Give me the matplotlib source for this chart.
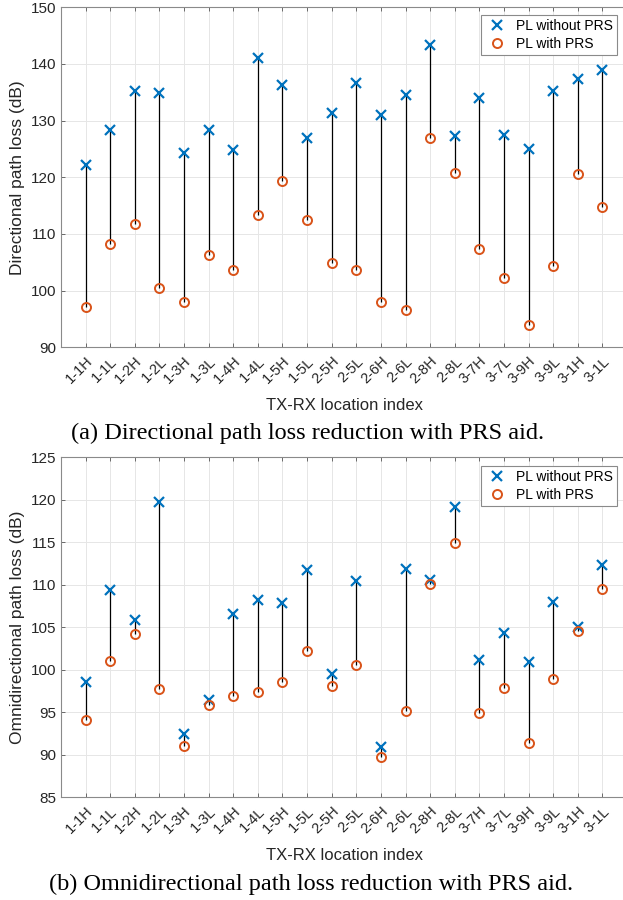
import numpy as np
import matplotlib.pyplot as plt

# dados
locais = ["1-1H", "1-1L", "1-2H", "1-2L", "1-3H", "1-3L", "1-4H", "1-4L", "1-5H", "1-5L", "2-5H",
          "2-5L", "2-6H", "2-6L", "2-8H", "2-8L", "3-7H", "3-7L", "3-9H", "3-9L", "3-1H", "3-1L"]

dir_sem_prs = [122.1, 128.3, 135.3, 134.9, 124.3, 128.3, 124.9, 141.0, 136.3, 127.0, 131.4,
               136.6, 131.0, 134.5, 143.3, 127.3, 134.0, 127.5, 125.0, 135.3, 137.3, 138.9]
dir_com_prs = [97.2, 108.2, 111.7, 100.5, 98.0, 106.3, 103.6, 113.3, 119.3, 112.5, 104.8,
               103.7, 98.0, 96.6, 126.9, 120.7, 107.3, 102.2, 94.0, 104.4, 120.5, 114.8]

omni_sem_prs = [98.5, 109.4, 105.9, 119.7, 92.4, 96.4, 106.5, 108.2, 107.8, 111.7, 99.5,
                110.4, 90.9, 111.9, 110.6, 119.1, 101.1, 104.3, 100.9, 108.0, 105.0, 112.3]
omni_com_prs = [94.1, 101.0, 104.2, 97.7, 91.0, 95.8, 96.9, 97.4, 98.6, 102.2, 98.1,
                100.5, 89.7, 95.2, 110.1, 114.9, 94.9, 97.9, 91.4, 98.9, 104.5, 109.5]

AZUL = "#0072BD"
LARANJA = "#D95319"
CINZA_TXT = "#262626"

plt.rcParams["font.family"] = ["Liberation Sans", "DejaVu Sans"]

fig = plt.figure(figsize=(6.23, 9), dpi=100)


def desenha(ax, sem, com, ylim, yticks, ylabel):
    xs = np.arange(1, len(locais) + 1)
    ax.vlines(xs, com, sem, color="k", linewidth=0.9, zorder=2)
    ax.plot(xs, sem, "x", color=AZUL, markersize=7, markeredgewidth=1.6,
            label="PL without PRS", zorder=3)
    ax.plot(xs, com, "o", color=LARANJA, markerfacecolor="none", markersize=6.5,
            markeredgewidth=1.4, label="PL with PRS", zorder=3)
    ax.set_xlim(0, len(locais) + 1)
    ax.set_ylim(*ylim)
    ax.set_yticks(yticks)
    ax.set_xticks(xs)
    ax.set_xticklabels(locais, rotation=45, ha="right", rotation_mode="anchor")
    ax.grid(True, color="#e6e6e6", linewidth=0.7)
    ax.set_axisbelow(True)
    ax.tick_params(direction="in", length=3, width=0.6, top=True, right=True,
                   labelsize=11, colors="#555555", labelcolor=CINZA_TXT)
    ax.tick_params(axis="x", labelsize=10.5, pad=5)
    for s in ax.spines.values():
        s.set_color("#8a8a8a")
        s.set_linewidth(0.8)
    ax.set_xlabel("TX-RX location index", fontsize=12, color=CINZA_TXT, labelpad=8)
    ax.set_ylabel(ylabel, fontsize=12.5, color=CINZA_TXT, labelpad=4)


def legenda(ax, topo):
    leg = ax.legend(loc="upper right", bbox_to_anchor=(617 / 623, 1 - topo / 900),
                    bbox_transform=fig.transFigure, borderaxespad=0, fontsize=10,
                    fancybox=False, edgecolor="#8a8a8a", framealpha=1,
                    handletextpad=0.6, borderpad=0.3, handlelength=1.6, labelspacing=0.25)
    leg.get_frame().set_linewidth(0.8)


ax1 = fig.add_axes([61 / 623, 1 - 347.3 / 900, 566 / 623, 340 / 900])
desenha(ax1, dir_sem_prs, dir_com_prs, (90, 150), np.arange(90, 151, 10),
        "Directional path loss (dB)")
legenda(ax1, 15)

ax2 = fig.add_axes([61 / 623, 1 - 797.2 / 900, 566 / 623, 340 / 900])
desenha(ax2, omni_sem_prs, omni_com_prs, (85, 125), np.arange(85, 126, 5),
        "Omnidirectional path loss (dB)")
legenda(ax2, 466)

fig.text(308 / 623, 1 - 433 / 900, "(a) Directional path loss reduction with PRS aid.",
         ha="center", va="center", fontsize=17.5, family="Liberation Serif")
fig.text(311 / 623, 1 - 884 / 900, "(b) Omnidirectional path loss reduction with PRS aid.",
         ha="center", va="center", fontsize=17.5, family="Liberation Serif")

plt.savefig("out.png", dpi=100)
